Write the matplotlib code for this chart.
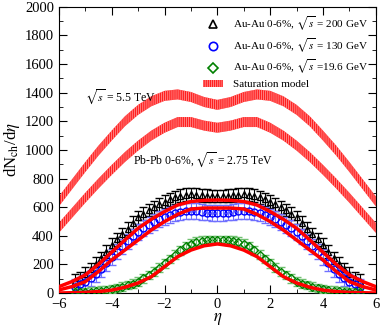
import numpy as np
import matplotlib
matplotlib.use("Agg")
import matplotlib.pyplot as plt
from matplotlib.patches import Patch
from matplotlib.lines import Line2D

plt.rcParams['font.family'] = ['Liberation Serif', 'DejaVu Serif']
plt.rcParams['mathtext.fontset'] = 'stix'
plt.rcParams['hatch.linewidth'] = 0.6

# saturation model curves (eta grid of 0.5)
eta_m = np.array([-6, -5.5, -5, -4.5, -4, -3.5, -3, -2.5, -2, -1.5, -1, -0.5, 0,
                  0.5, 1, 1.5, 2, 2.5, 3, 3.5, 4, 4.5, 5, 5.5, 6])
lhc_55 = np.array([640, 760, 880, 995, 1100, 1200, 1280, 1340, 1378, 1388, 1370, 1335, 1315,
                   1335, 1370, 1388, 1378, 1340, 1280, 1200, 1100, 995, 880, 760, 640])
lhc_275 = np.array([455, 560, 665, 765, 860, 950, 1030, 1100, 1155, 1195, 1195, 1170, 1155,
                    1170, 1195, 1195, 1155, 1100, 1030, 950, 860, 765, 665, 560, 455])
model_200 = np.array([44, 80, 126, 200, 285, 370, 452, 515, 569, 615, 639, 648, 650,
                      648, 639, 615, 569, 515, 452, 370, 285, 200, 126, 80, 44])
model_130 = np.array([21, 45, 79, 150, 231, 300, 370, 440, 499, 550, 587, 594, 594,
                      594, 587, 550, 499, 440, 370, 300, 231, 150, 79, 45, 21])
model_196 = np.array([0, 2, 4, 10, 20, 40, 70, 114, 184, 254, 300, 330, 343,
                      330, 300, 254, 184, 114, 70, 40, 20, 10, 4, 2, 0])

# data points (eta grid of 0.2)
eta_d = np.round(np.arange(-5.4, 5.41, 0.2), 1)
au200 = np.array([85, 105, 135, 165, 205, 245, 290, 336, 375, 410, 450, 490, 528, 555,
                  580, 600, 620, 638, 655, 670, 680, 688, 690, 688, 684, 680, 678, 678,
                  678, 680, 684, 688, 690, 688, 680, 670, 655, 638, 620, 600, 580, 555,
                  528, 490, 450, 410, 375, 336, 290, 245, 205, 165, 135, 105, 85])
au130 = np.array([45, 60, 78, 105, 135, 170, 210, 250, 290, 325, 360, 395, 428, 452,
                  475, 495, 515, 532, 545, 558, 566, 572, 575, 572, 566, 562, 560, 560,
                  560, 562, 566, 572, 575, 572, 566, 558, 545, 532, 515, 495, 475, 452,
                  428, 395, 360, 325, 290, 250, 210, 170, 135, 105, 78, 60, 45])
au196 = np.array([5, 6, 8, 10, 13, 17, 22, 28, 35, 45, 55, 66, 80, 102,
                  125, 150, 178, 208, 238, 268, 298, 325, 345, 358, 365, 368, 370, 370,
                  370, 368, 365, 358, 345, 325, 298, 268, 238, 208, 178, 150, 125, 102,
                  80, 66, 55, 45, 35, 28, 22, 17, 13, 10, 8, 6, 5])
err200 = 45
err130 = 55
err196 = 30
band = 35

fig = plt.figure(figsize=(3.82, 3.27), dpi=100)
ax = fig.add_axes([0.154, 0.104, 0.83, 0.875])

for y in (lhc_55, lhc_275):
    ax.fill_between(eta_m, y - band, y + band, facecolor='#ff2020', edgecolor='#ff9090',
                    hatch='||||||||', linewidth=0, zorder=2)

ax.errorbar(eta_d, au200, yerr=err200, fmt='^', ms=5, mfc='none', mec='black', mew=1,
            ecolor='black', elinewidth=0.8, capsize=3, zorder=3)
ax.errorbar(eta_d, au130, yerr=err130, fmt='o', ms=5, mfc='none', mec='blue', mew=1,
            ecolor='#7070ff', elinewidth=0.8, capsize=3, zorder=3)
ax.errorbar(eta_d, au196, yerr=err196, fmt='D', ms=4, mfc='none', mec='green', mew=1,
            ecolor='#70c070', elinewidth=0.8, capsize=3, zorder=3)

for y in (model_200, model_130, model_196):
    ax.plot(eta_m, y, color='red', lw=2.5, zorder=4)

ax.set_xlim(-6, 6)
ax.set_ylim(0, 2000)
ax.set_xticks(np.arange(-6, 7, 2))
ax.set_xticks(np.arange(-6, 7, 1), minor=True)
ax.set_yticks(np.arange(0, 2001, 200))
ax.set_yticks(np.arange(0, 2001, 100), minor=True)
ax.tick_params(which='both', direction='in', top=True, right=True, labelsize=10.5)
ax.tick_params(which='major', length=6)
ax.tick_params(which='minor', length=3)
ax.set_xlabel(r'$\eta$', fontsize=12, labelpad=0)
ax.set_ylabel(r'dN$_{\rm ch}$/d$\eta$', fontsize=12, labelpad=2)

ax.text(-5.0, 1370, r'$\sqrt{s}$ = 5.5 TeV', fontsize=8.5, va='center')
ax.text(-3.2, 935, r'Pb-Pb 0-6%, $\sqrt{s}$ = 2.75 TeV', fontsize=8.5, va='center')

handles = [
    Line2D([], [], marker='^', ls='none', mfc='none', mec='black', ms=6, mew=1.2),
    Line2D([], [], marker='o', ls='none', mfc='none', mec='blue', ms=6, mew=1.2),
    Line2D([], [], marker='D', ls='none', mfc='none', mec='green', ms=5, mew=1.2),
    Patch(facecolor='#ff2020', edgecolor='#ff9090', hatch='||||||||', linewidth=0),
]
labels = [r'Au-Au 0-6%, $\sqrt{s}$ = 200 GeV',
          r'Au-Au 0-6%, $\sqrt{s}$ = 130 GeV',
          r'Au-Au 0-6%, $\sqrt{s}$ =19.6 GeV',
          'Saturation model']
ax.legend(handles, labels, loc='upper right', frameon=False, fontsize=8,
          handlelength=1.8, handleheight=0.6, handletextpad=0.9, labelspacing=0.3,
          borderaxespad=0.3)

fig.savefig('out.png', dpi=100)
